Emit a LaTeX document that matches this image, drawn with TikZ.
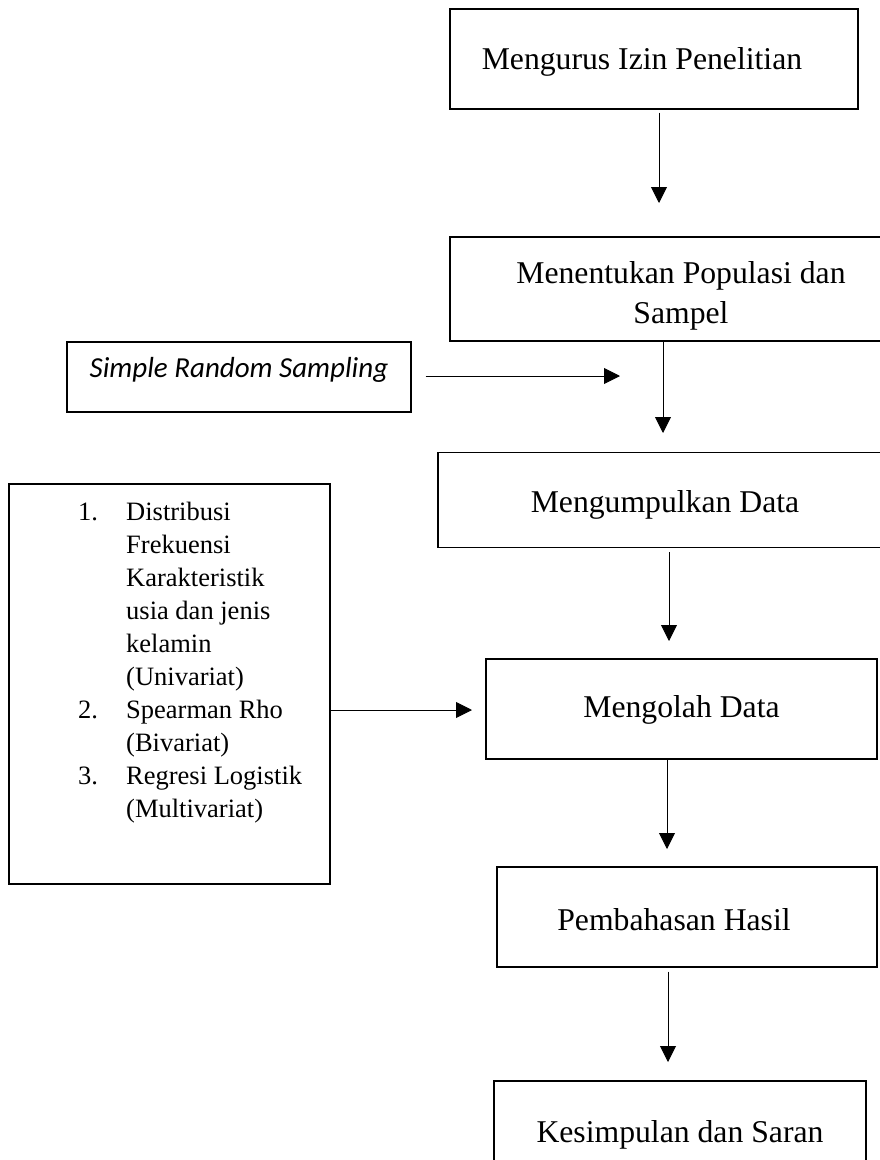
\documentclass[tikz,border=0pt]{standalone}
\usepackage{fontspec}
\setmainfont{Liberation Serif}
\newfontfamily\calibfont{Carlito}
\usetikzlibrary{arrows.meta}
\begin{document}
\begin{tikzpicture}[x=1pt,y=-1pt,
  box/.style={draw, line width=1.2pt, inner sep=0pt, font=\fontsize{31.7}{40}\selectfont},
  txt/.style={inner sep=0pt},
  arr/.style={line width=0.9pt, -{Triangle[length=16pt,width=16pt]}}]
\useasboundingbox (0,0) rectangle (880,1160);

% main flow boxes
\node[box, minimum width=408pt, minimum height=100pt, text height=26pt, text depth=6pt]
  (b1) at (654,59) {\hspace*{-24pt}Mengurus Izin Penelitian};
\node[box, minimum width=462pt, minimum height=104pt, align=center]
  (b2) at (681,289) {\rule{0pt}{35pt}Menentukan Populasi dan\\Sampel};
\node[box, minimum width=454pt, minimum height=95pt, text height=30pt, text depth=6pt]
  (b3) at (665,500) {Mengumpulkan Data};
\node[box, minimum width=391pt, minimum height=100pt, text height=22pt, text depth=6pt]
  (b4) at (681.5,709) {Mengolah Data};
\node[box, minimum width=380pt, minimum height=100pt, text height=32pt, text depth=6pt]
  (b5) at (687,917) {\hspace*{-26pt}Pembahasan Hasil};
\node[box, minimum width=372pt, minimum height=100pt, text height=28pt, text depth=6pt]
  (b6) at (680,1131) {Kesimpulan dan Saran};

% side boxes
\node[box, minimum width=344pt, minimum height=70pt, text height=10pt, text depth=10pt,
  font=\fontsize{29}{35}\calibfont\itshape]
  (srs) at (239,377) {Simple Random Sampling};
\node[box, minimum width=321pt, minimum height=400pt] (lbox) at (169.5,684) {};
\node[txt, anchor=base west, font=\fontsize{26.5}{33}\selectfont] (list) at (78,520)
  {\begin{tabular}[t]{@{}p{48pt}@{}l@{}}
   1. & Distribusi\\
      & Frekuensi\\
      & Karakteristik\\
      & usia dan jenis\\
      & kelamin\\
      & (Univariat)\\
   2. & Spearman Rho\\
      & (Bivariat)\\
   3. & Regresi Logistik\\
      & (Multivariat)
   \end{tabular}};

% arrow end points
\coordinate (t1) at (659,203);
\coordinate (t2) at (620,376);
\coordinate (t3) at (663,433);
\coordinate (t4) at (669,641);
\coordinate (t5) at (472,710);
\coordinate (t6) at (667,849);
\coordinate (t7) at (668,1062);

% connectors
\draw[arr] ([yshift=-3pt]b1.south -| t1) -- (t1);
\draw[arr] ([xshift=14pt]srs.east |- t2) -- (t2);
\draw[arr] (b2.south -| t3) -- (t3);
\draw[arr] ([yshift=-4pt]b3.south -| t4) -- (t4);
\draw[arr] (lbox.east |- t5) -- (t5);
\draw[arr] (b4.south -| t6) -- (t6);
\draw[arr] ([yshift=-4pt]b5.south -| t7) -- (t7);
\end{tikzpicture}
\end{document}
